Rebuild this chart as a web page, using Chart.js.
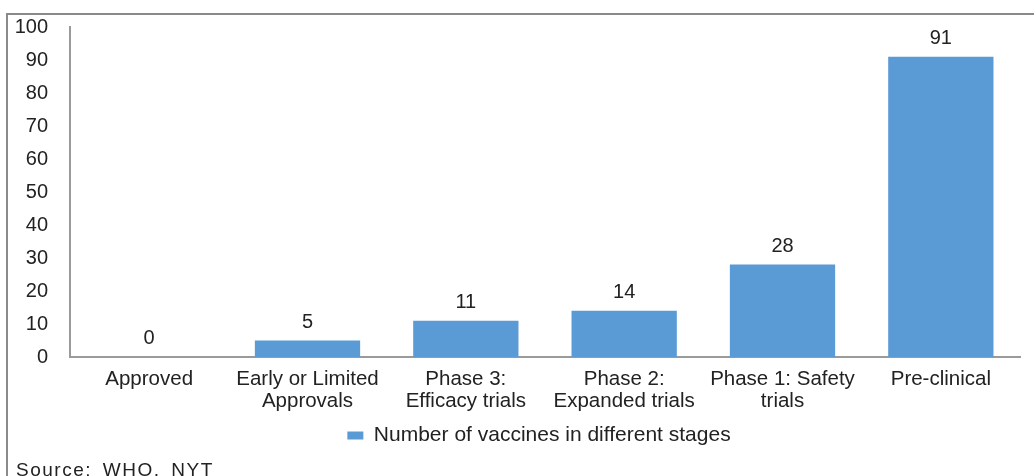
<!DOCTYPE html>
<html>
<head>
<meta charset="utf-8">
<script src="https://cdn.jsdelivr.net/npm/chart.js@4/dist/chart.umd.min.js"></script>
<style>
    html, body { margin: 0; padding: 0; background: #fff; overflow: hidden; }
    #wrap { position: relative; width: 1034px; height: 476px; }
    #frame {
        position: absolute; left: 6px; top: 13px; width: 1040px; height: 480px;
        border-left: 2px solid #8a8a8a; border-top: 2px solid #8a8a8a;
    }
    #source {
        position: absolute; left: 16px; top: 459px;
        font-family: 'Liberation Sans', Arial, sans-serif; font-size: 19px;
        color: #222; letter-spacing: 1.5px; word-spacing: 4px;
    }
    canvas { position: absolute; left: 0; top: 0; }
</style>
</head>
<body>
<div id="wrap">
    <div id="frame"></div>
    <canvas id="c" width="1034" height="476"></canvas>
    <div id="source">Source: WHO, NYT</div>
</div>
<script>
// chart data
const categories = [
    'Approved',
    ['Early or Limited', 'Approvals'],
    ['Phase 3:', 'Efficacy trials'],
    ['Phase 2:', 'Expanded trials'],
    ['Phase 1: Safety', 'trials'],
    'Pre-clinical'
];
const vaccineCounts = [0, 5, 11, 14, 28, 91];
const seriesName = 'Number of vaccines in different stages';
const yTicks = [0, 10, 20, 30, 40, 50, 60, 70, 80, 90, 100];

const FONT = "'Liberation Sans', Arial, sans-serif";
const BAR_BLUE = '#5b9bd5';

// value labels above each bar
const valueLabels = {
    id: 'valueLabels',
    afterDatasetsDraw(chart) {
        const ctx = chart.ctx;
        const meta = chart.getDatasetMeta(0);
        ctx.save();
        ctx.font = '20px ' + FONT;
        ctx.fillStyle = '#222';
        ctx.textAlign = 'center';
        ctx.textBaseline = 'alphabetic';
        meta.data.forEach((bar, i) => {
            ctx.fillText(String(vaccineCounts[i]), bar.x, bar.y - 13);
        });
        ctx.restore();
    }
};

// nudge the legend right so it sits under the plot, like the original
const legendShift = {
    id: 'legendShift',
    afterLayout(chart) {
        if (chart.legend) {
            chart.legend.left += 29;
            chart.legend.right += 29;
        }
    }
};

new Chart(document.getElementById('c'), {
    type: 'bar',
    data: {
        labels: categories,
        datasets: [{
            label: seriesName,
            data: vaccineCounts,
            backgroundColor: BAR_BLUE,
            borderWidth: 0,
            barPercentage: 0.665,
            categoryPercentage: 1
        }]
    },
    options: {
        responsive: false,
        animation: false,
        layout: { padding: { left: 0, top: 27, right: 14, bottom: 20 } },
        plugins: {
            legend: {
                position: 'bottom',
                labels: {
                    color: '#222',
                    font: { family: FONT, size: 21 },
                    boxWidth: 16,
                    boxHeight: 8,
                    padding: 10
                }
            },
            tooltip: { enabled: false }
        },
        scales: {
            x: {
                grid: { display: false, drawTicks: false },
                border: { color: '#9a9a9a', width: 2 },
                ticks: {
                    color: '#222',
                    font: { family: FONT, size: 20.5, lineHeight: 1.05 },
                    padding: 12,
                    maxRotation: 0,
                    autoSkip: false
                },
                afterFit(scale) { scale.height = 58; }
            },
            y: {
                min: 0,
                max: 100,
                afterBuildTicks(scale) { scale.ticks = yTicks.map(v => ({ value: v })); },
                grid: { display: false, drawTicks: false },
                border: { color: '#9a9a9a', width: 2 },
                ticks: {
                    color: '#222',
                    font: { family: FONT, size: 20 },
                    padding: 22
                },
                afterFit(scale) {
                    scale.width = 70;
                    // tick padding would otherwise push the plot top down
                    scale.paddingTop = 12;
                    scale.paddingBottom = 12;
                }
            }
        }
    },
    plugins: [valueLabels, legendShift]
});
</script>
</body>
</html>
